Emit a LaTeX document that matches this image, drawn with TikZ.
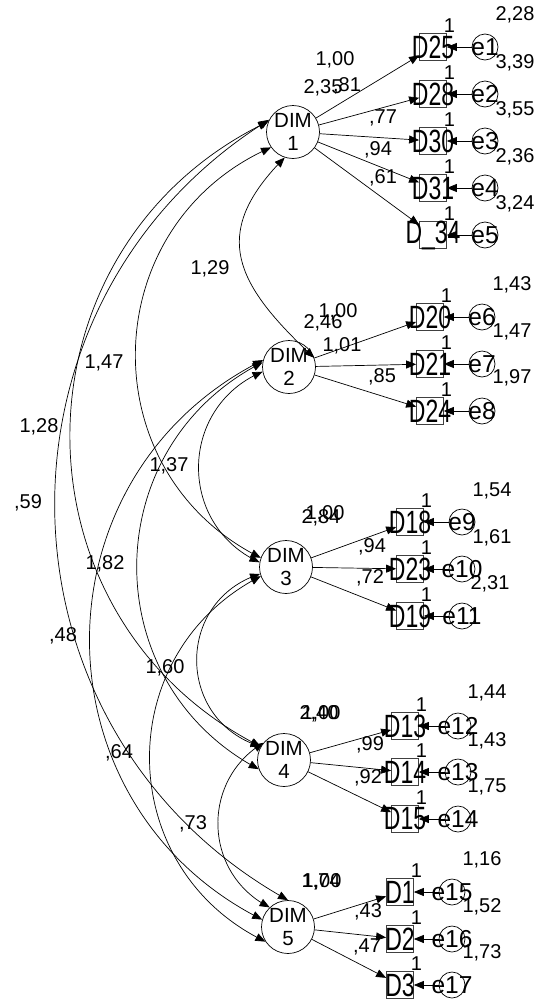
\documentclass[tikz,border=0pt]{standalone}
\usepackage{fontspec}
\setmainfont{Liberation Sans}
\usepackage{graphicx}
\usetikzlibrary{arrows.meta,bending}

\newcommand\valfont{\fontsize{20}{23}\selectfont}
\newcommand\dimfont{\fontsize{20.5}{23}\selectfont}
\newcommand\errfont{\fontsize{24.5}{28}\selectfont}
\newcommand\itemlab[1]{\scalebox{1}[1.4]{\fontsize{23}{26}\selectfont #1}}

\begin{document}
\begin{tikzpicture}[
  x=1pt, y=1pt,
  >={Triangle[length=10pt,width=8pt]},
  ->,
  line width=0.7pt,
  every node/.style={font=\valfont},
  latent node/.style={circle,draw,minimum size=53pt,inner sep=0pt,align=center,font=\dimfont},
  item node/.style={rectangle,draw=black!75,minimum size=27pt,inner sep=0pt,
    label={[inner sep=0pt]center:\itemlab{#1}}},
  error node/.style={circle,draw,minimum size=26pt,inner sep=0pt,
    label={[inner sep=0pt,font=\errfont]center:#1}},
  value/.style={inner sep=0pt},
  fixed label/.style={inner sep=0pt,pos=0.9,above=14pt},
  cov/.style={<->},
]
\useasboundingbox (0,0) rectangle (539,-999);

% latent factors
\node[latent node] (DIM1) at (293,-132) {DIM\\1};
\node[latent node] (DIM2) at (289,-367) {DIM\\2};
\node[latent node] (DIM3) at (286,-567) {DIM\\3};
\node[latent node] (DIM4) at (284,-760) {DIM\\4};
\node[latent node] (DIM5) at (288,-927) {DIM\\5};

% observed items
\node[item node=D25] (D25) at (433,-47) {};
\node[item node=D28] (D28) at (433,-94) {};
\node[item node=D30] (D30) at (433,-141) {};
\node[item node=D31] (D31) at (433,-188) {};
\node[item node=D\_34] (D34) at (433,-235) {};
\node[item node=D20] (D20) at (430,-317) {};
\node[item node=D21] (D21) at (430,-364) {};
\node[item node=D24] (D24) at (430,-411) {};
\node[item node=D18] (D18) at (410,-522) {};
\node[item node=D23] (D23) at (410,-569) {};
\node[item node=D19] (D19) at (410,-616) {};
\node[item node=D13] (D13) at (405,-726) {};
\node[item node=D14] (D14) at (405,-772) {};
\node[item node=D15] (D15) at (405,-819) {};
\node[item node=D1] (D1) at (400,-892) {};
\node[item node=D2] (D2) at (400,-939) {};
\node[item node=D3] (D3) at (400,-985) {};

% error terms
\node[error node=e1] (e1) at (485,-47) {};
\node[error node=e2] (e2) at (485,-94) {};
\node[error node=e3] (e3) at (485,-141) {};
\node[error node=e4] (e4) at (485,-188) {};
\node[error node=e5] (e5) at (485,-235) {};
\node[error node=e6] (e6) at (482,-317) {};
\node[error node=e7] (e7) at (482,-364) {};
\node[error node=e8] (e8) at (482,-411) {};
\node[error node=e9] (e9) at (462,-522) {};
\node[error node=e10] (e10) at (462,-569) {};
\node[error node=e11] (e11) at (462,-616) {};
\node[error node=e12] (e12) at (458,-726) {};
\node[error node=e13] (e13) at (458,-772) {};
\node[error node=e14] (e14) at (458,-819) {};
\node[error node=e15] (e15) at (452,-892) {};
\node[error node=e16] (e16) at (452,-939) {};
\node[error node=e17] (e17) at (452,-985) {};

% loadings
\draw (DIM1) -- (D25);
\draw (DIM1) -- (D28);
\draw (DIM1) -- (D30);
\draw (DIM1) -- (D31);
\draw (DIM1) -- (D34);
\draw (DIM2) -- (D20);
\draw (DIM2) -- (D21);
\draw (DIM2) -- (D24);
\draw (DIM3) -- (D18);
\draw (DIM3) -- (D23);
\draw (DIM3) -- (D19);
\draw (DIM4) -- (D13);
\draw (DIM4) -- (D14);
\draw (DIM4) -- (D15);
\draw (DIM5) -- (D1);
\draw (DIM5) -- (D2);
\draw (DIM5) -- (D3);

% error paths
\draw (e1) -- node[fixed label] {1} (D25);
\draw (e2) -- node[fixed label] {1} (D28);
\draw (e3) -- node[fixed label] {1} (D30);
\draw (e4) -- node[fixed label] {1} (D31);
\draw (e5) -- node[fixed label] {1} (D34);
\draw (e6) -- node[fixed label] {1} (D20);
\draw (e7) -- node[fixed label] {1} (D21);
\draw (e8) -- node[fixed label] {1} (D24);
\draw (e9) -- node[fixed label] {1} (D18);
\draw (e10) -- node[fixed label] {1} (D23);
\draw (e11) -- node[fixed label] {1} (D19);
\draw (e12) -- node[fixed label] {1} (D13);
\draw (e13) -- node[fixed label] {1} (D14);
\draw (e14) -- node[fixed label] {1} (D15);
\draw (e15) -- node[fixed label] {1} (D1);
\draw (e16) -- node[fixed label] {1} (D2);
\draw (e17) -- node[fixed label] {1} (D3);

% covariances
\draw[cov] (DIM1.252) to[out=225,in=137,distance=108pt] (DIM2.20);
\draw[cov] (DIM1.215) to[out=203.6,in=153.6,distance=192pt] (DIM3.160);
\draw[cov] (DIM1.157) to[out=205.4,in=153.2,distance=289pt] (DIM4.150);
\draw[cov] (DIM1.153) to[out=211.8,in=151,distance=346pt] (DIM5.90);
\draw[cov] (DIM2.190) to[out=202.7,in=155.5,distance=91pt] (DIM3.170);
\draw[cov] (DIM2.170) to[out=206.8,in=152.2,distance=186pt] (DIM4.200);
\draw[cov] (DIM2.165) to[out=206.4,in=153.4,distance=258pt] (DIM5.164);
\draw[cov] (DIM3.195) to[out=197.4,in=163,distance=89pt] (DIM4.150);
\draw[cov] (DIM3.200) to[out=207,in=154.4,distance=169pt] (DIM5.213);
\draw[cov] (DIM4.140) to[out=211,in=153.5,distance=74pt] (DIM5.133);

% covariance values
\node[value] (c12) at (210,-269) {1,29};
\node[value] (c13) at (104,-363) {1,47};
\node[value] (c14) at (39,-427) {1,28};
\node[value] (c15) at (28,-503) {,59};
\node[value] (c23) at (169,-466) {1,37};
\node[value] (c24) at (105,-564) {1,82};
\node[value] (c25) at (63,-636) {,48};
\node[value] (c34) at (165,-668) {1,60};
\node[value] (c35) at (119,-753) {,64};
\node[value] (c45) at (193,-824) {,73};

% factor variances
\node[value] (vDIM1) at (323,-88) {2,35};
\node[value] (vDIM2) at (323,-323) {2,46};
\node[value] (vDIM3) at (321,-518) {2,84};
\node[value] (vDIM4) at (319,-714) {2,40};
\node[value] (vDIM5) at (321,-882) {1,74};

% loading values
\node[value] (w25) at (335,-60) {1,00};
\node[value] (w28) at (347,-86) {,81};
\node[value] (w30) at (383,-118) {,77};
\node[value] (w31) at (378,-150) {,94};
\node[value] (w34) at (383,-178) {,61};
\node[value] (w20) at (338,-312) {1,00};
\node[value] (w21) at (342,-346) {1,01};
\node[value] (w24) at (382,-377) {,85};
\node[value] (w18) at (325,-514) {1,00};
\node[value] (w23) at (372,-547) {,94};
\node[value] (w19) at (370,-578) {,72};
\node[value] (w13) at (321,-714) {1,00};
\node[value] (w14) at (370,-745) {,99};
\node[value] (w15) at (368,-778) {,92};
\node[value] (w1) at (322,-882) {1,00};
\node[value] (w2) at (368,-912) {,43};
\node[value] (w3) at (367,-947) {,47};

% error variances
\node[value] (v1) at (515,-15) {2,28};
\node[value] (v2) at (515,-63) {3,39};
\node[value] (v3) at (515,-110) {3,55};
\node[value] (v4) at (515,-157) {2,36};
\node[value] (v5) at (515,-204) {3,24};
\node[value] (v6) at (512,-285) {1,43};
\node[value] (v7) at (512,-332) {1,47};
\node[value] (v8) at (512,-378) {1,97};
\node[value] (v9) at (492,-491) {1,54};
\node[value] (v10) at (492,-538) {1,61};
\node[value] (v11) at (490,-584) {2,31};
\node[value] (v12) at (487,-693) {1,44};
\node[value] (v13) at (487,-741) {1,43};
\node[value] (v14) at (487,-787) {1,75};
\node[value] (v15) at (482,-860) {1,16};
\node[value] (v16) at (482,-907) {1,52};
\node[value] (v17) at (482,-953) {1,73};
\end{tikzpicture}
\end{document}
